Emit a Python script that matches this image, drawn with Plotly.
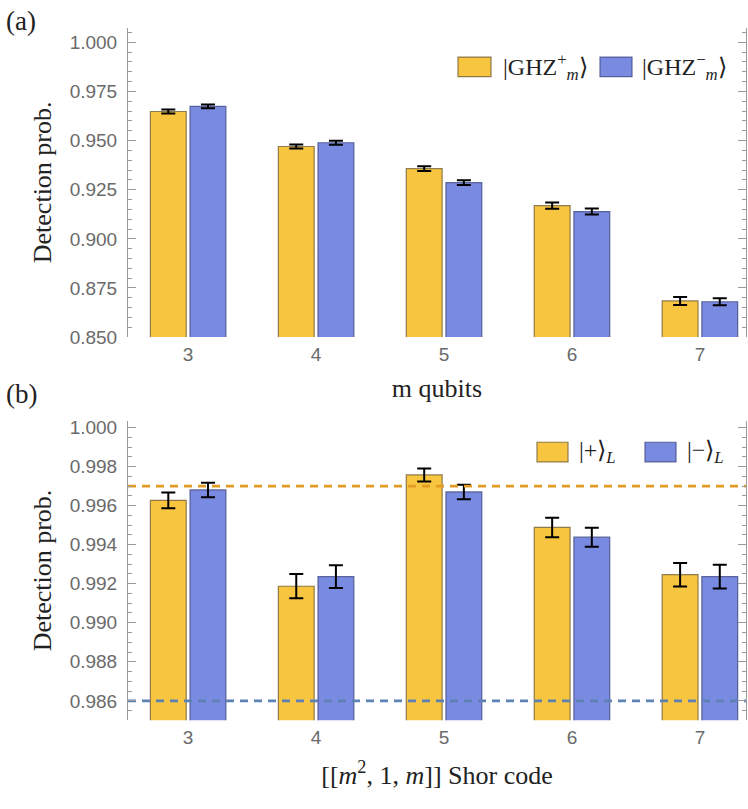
import plotly.graph_objects as go

# ---- data -------------------------------------------------------------
categories = [3, 4, 5, 6, 7]

# (a) GHZ states
ghz_plus = [0.9648, 0.9470, 0.9357, 0.9169, 0.8684]
ghz_plus_err = [0.0010, 0.0010, 0.0012, 0.0016, 0.0020]
ghz_minus = [0.9674, 0.9489, 0.9286, 0.9139, 0.8680]
ghz_minus_err = [0.0009, 0.0010, 0.0012, 0.0015, 0.0018]

# (b) Shor code logical states
shor_plus = [0.99627, 0.99187, 0.99757, 0.99488, 0.99246]
shor_plus_err = [0.00040, 0.00062, 0.00033, 0.00050, 0.00060]
shor_minus = [0.99680, 0.99236, 0.99670, 0.99438, 0.99236]
shor_minus_err = [0.00037, 0.00058, 0.00037, 0.00049, 0.00061]

threshold_plus = 0.997
threshold_minus = 0.986

# ---- style ------------------------------------------------------------
YELLOW = "#F8C540"
YELLOW_EDGE = "rgba(125,105,60,0.85)"
BLUE = "#798AE1"
BLUE_EDGE = "rgba(70,80,140,0.85)"
FRAME = "#9b9b9b"
TICKFONT = dict(family="Liberation Sans, Arial", size=19, color="#6a6a6a")
SERIF = "Liberation Serif, Times New Roman, serif"
TITLEFONT = dict(family=SERIF, size=26, color="#222")

BAR_W = 0.28
X_RANGE = [2.53, 7.36]

fig = go.Figure()


def add_pair(vals_a, err_a, vals_b, err_b, xa, ya):
    for vals, err, fill, edge, off in [
        (vals_a, err_a, YELLOW, YELLOW_EDGE, -0.295),
        (vals_b, err_b, BLUE, BLUE_EDGE, 0.015),
    ]:
        fig.add_trace(go.Bar(
            x=categories, y=vals, width=BAR_W, offset=off,
            marker=dict(color=fill, line=dict(color=edge, width=1.2)),
            error_y=dict(type="data", array=err, color="black",
                         thickness=2, width=7),
            xaxis=xa, yaxis=ya, showlegend=False,
        ))


add_pair(ghz_plus, ghz_plus_err, ghz_minus, ghz_minus_err, "x", "y")
add_pair(shor_plus, shor_plus_err, shor_minus, shor_minus_err, "x2", "y2")

# threshold lines in panel (b)
for level, col in [(threshold_plus, "#E19C24"), (threshold_minus, "#5E81B5")]:
    fig.add_trace(go.Scatter(
        x=X_RANGE, y=[level, level], mode="lines",
        line=dict(color=col, width=2.8, dash="8px,6px"),
        xaxis="x2", yaxis="y2", showlegend=False, hoverinfo="skip",
    ))

# bar-position ticks (bar centres and group boundaries)
bar_ticks = sorted([c - 0.155 for c in categories] + [c + 0.155 for c in categories]
                   + [c + 0.5 for c in categories[:-1]])

TOP_DOM = [1 - 340 / 809, 1 - 25 / 809]
BOT_DOM = [1 - 730 / 809, 1 - 425 / 809]
X_DOM = [128 / 748, 746 / 748]

label_axis = dict(range=X_RANGE, domain=X_DOM, tickvals=categories,
                  ticktext=[str(c) for c in categories], ticks="",
                  showline=False, showgrid=False, zeroline=False,
                  tickfont=TICKFONT, ticklabelstandoff=4)
tick_axis = dict(range=X_RANGE, domain=X_DOM, tickvals=bar_ticks,
                 showticklabels=False, ticks="inside", ticklen=6,
                 tickcolor=FRAME, showline=True, linecolor=FRAME,
                 linewidth=1, mirror="ticks", showgrid=False,
                 zeroline=False)

y_common = dict(showline=True, linecolor=FRAME, linewidth=1, mirror="ticks",
                ticks="inside", ticklen=8, tickcolor=FRAME, showgrid=False,
                zeroline=False, tickfont=TICKFONT, ticklabelstandoff=6)

fig.update_layout(
    width=748, height=809,
    margin=dict(l=0, r=0, t=0, b=0),
    paper_bgcolor="white", plot_bgcolor="white",
    barmode="overlay",
    xaxis=dict(label_axis, anchor="y",
               title=dict(text="m qubits", font=TITLEFONT, standoff=14)),
    xaxis3=dict(tick_axis, anchor="y", overlaying="x"),
    xaxis2=dict(label_axis, anchor="y2",
                title=dict(text="[[<i>m</i><sup>2</sup>, 1, <i>m</i>]] Shor code",
                           font=TITLEFONT, standoff=18)),
    xaxis4=dict(tick_axis, anchor="y2", overlaying="x2"),
    yaxis=dict(y_common, domain=TOP_DOM, range=[0.85, 1.0075],
               tickvals=[0.85, 0.875, 0.9, 0.925, 0.95, 0.975, 1.0],
               tickformat=".3f",
               minor=dict(dtick=0.005, tick0=0.85, ticks="inside",
                          ticklen=4, tickcolor=FRAME),
               title=dict(text="Detection prob.", font=TITLEFONT,
                          standoff=10)),
    yaxis2=dict(y_common, domain=BOT_DOM, range=[0.985, 1.00035],
                tickvals=[0.986, 0.988, 0.99, 0.992, 0.994, 0.996, 0.998, 1.0],
                tickformat=".3f",
                minor=dict(dtick=0.0005, tick0=0.985, ticks="inside",
                           ticklen=4, tickcolor=FRAME),
                title=dict(text="Detection prob.", font=TITLEFONT,
                           standoff=10)),
)

# panel letters
for txt, ypix in [("(a)", 18), ("(b)", 398)]:
    fig.add_annotation(text=txt, xref="paper", yref="paper", x=4 / 748,
                       y=1 - ypix / 809, xanchor="left", yanchor="middle",
                       showarrow=False,
                       font=dict(family=SERIF, size=27, color="#222"))

# legends drawn as swatches + labels inside each panel
legend_items = [
    ([(458, 491, YELLOW, YELLOW_EDGE, "|GHZ<sup>+</sup><sub><i>m</i></sub>\u27e9", 501),
      (600, 632, BLUE, BLUE_EDGE, "|GHZ<sup>\u2212</sup><sub><i>m</i></sub>\u27e9", 640)], 65),
    ([(537, 568, YELLOW, YELLOW_EDGE, "|+\u27e9<sub><i>L</i></sub>", 577),
      (645, 676, BLUE, BLUE_EDGE, "|\u2212\u27e9<sub><i>L</i></sub>", 685)], 457),
]
for items, ycen in legend_items:
    for x0, x1, fill, edge, label, xt in items:
        fig.add_shape(type="rect", xref="paper", yref="paper",
                      x0=x0 / 748, x1=x1 / 748,
                      y0=1 - (ycen + 10) / 809, y1=1 - (ycen - 10) / 809,
                      fillcolor=fill, line=dict(color=edge, width=1.2))
        fig.add_annotation(text=label, xref="paper", yref="paper",
                           x=xt / 748, y=1 - ycen / 809, xanchor="left",
                           yanchor="middle", showarrow=False,
                           font=dict(family=SERIF, size=24, color="#222"))

fig.write_html("out.html")
